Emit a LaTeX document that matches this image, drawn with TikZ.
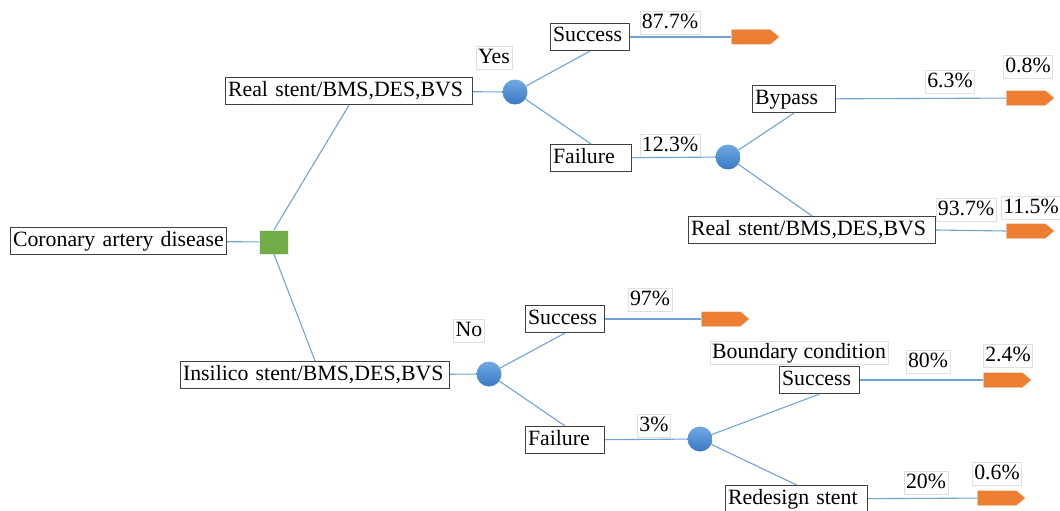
\documentclass[tikz,border=0pt]{standalone}
\usepackage{fontspec}
\setmainfont{Liberation Serif}
\usetikzlibrary{shapes.symbols}
\definecolor{linkblue}{RGB}{112,162,216}
\definecolor{chancetop}{RGB}{112,170,226}
\definecolor{chancebot}{RGB}{58,120,196}
\definecolor{endorange}{RGB}{237,125,49}
\definecolor{decgreen}{RGB}{112,173,71}
\newcommand{\treefont}{\fontsize{21.8}{25}\selectfont\hyphenpenalty=10000}
\tikzset{
  box/.style={draw=black!75, line width=1.1pt, fill=white, font=\treefont,
    text width=#1, align=left, inner xsep=2.5pt, inner ysep=3.5pt,
    text height=15pt, text depth=5pt, anchor=west},
  prob/.style={draw=black!12, line width=0.6pt, fill=white, font=\treefont,
    inner xsep=2pt, inner ysep=2pt, text height=15pt, text depth=4pt},
  chance/.style={circle, minimum size=25pt, inner sep=0pt,
    top color=chancetop, bottom color=chancebot},
  decision/.style={rectangle, minimum width=29pt, minimum height=24pt,
    inner sep=0pt, fill=decgreen, draw=black!8},
  terminal/.style={signal, signal to=east, signal pointer angle=80,
    fill=endorange, draw=black!8, minimum width=48pt, minimum height=15pt,
    inner sep=0pt},
  link/.style={draw=linkblue, line width=1.1pt}
}
\begin{document}
\begin{tikzpicture}[x=1pt, y=-1pt]
  \useasboundingbox (0,0) rectangle (1060,511);

  % root and decision
  \node[box=211] (cad) at (10,241) {Coronary artery disease};
  \node[decision] (dec) at (274,242) {};

  % upper branch: real stent
  \node[box=242] (real) at (225,91) {Real stent/BMS,DES,BVS};
  \node[chance] (c1) at (515,92) {};
  \node[prob] (yes) at (494,58) {Yes};
  \node[box=74] (succ1) at (550,37) {Success};
  \node[box=76] (fail1) at (550,158) {Failure};
  \node[prob] (p877) at (670,23) {87.7\%};
  \node[prob] (p123) at (670,146) {12.3\%};
  \node[terminal] (t1) at (751,37) {};
  \node[chance] (c2) at (728,157) {};
  \node[box=78] (bypass) at (752,99) {Bypass};
  \node[box=242] (real2) at (688,230) {Real stent/BMS,DES,BVS};
  \node[prob] (p63) at (950,82) {6.3\%};
  \node[prob] (p08) at (1028,67) {0.8\%};
  \node[prob] (p937) at (966,210) {93.7\%};
  \node[prob] (p115) at (1031,208) {11.5\%};
  \node[terminal] (t2) at (1026,98) {};
  \node[terminal] (t3) at (1026,231) {};

  % lower branch: insilico stent
  \node[box=264] (insil) at (180,375) {Insilico stent/BMS,DES,BVS};
  \node[chance] (c3) at (489,374) {};
  \node[prob] (no) at (469,331) {No};
  \node[box=74] (succ2) at (525,319) {Success};
  \node[box=74] (fail2) at (525,440) {Failure};
  \node[prob] (p97) at (650,300) {97\%};
  \node[prob] (p3) at (654,426) {3\%};
  \node[terminal] (t4) at (721,319) {};
  \node[chance] (c4) at (700,439) {};
  \node[prob] (bc) at (799,353) {Boundary condition};
  \node[box=75] (succ3) at (779,380) {Success};
  \node[box=137] (redes) at (725,499) {Redesign stent};
  \node[prob] (p80) at (928,362) {80\%};
  \node[prob] (p24) at (1008,356) {2.4\%};
  \node[prob] (p20) at (926,483) {20\%};
  \node[prob] (p06) at (997,474) {0.6\%};
  \node[terminal] (t5) at (1003,380) {};
  \node[terminal] (t6) at (997,498) {};

  % connectors
  \draw[link] (cad) -- (dec);
  \draw[link] (dec.north) -- (real.south);
  \draw[link] (dec.south) -- (insil.north);
  \draw[link] (real) -- (c1);
  \draw[link] (c1) -- (succ1.south);
  \draw[link] (c1) -- (fail1.north);
  \draw[link] (succ1) -- (t1);
  \draw[link] (fail1) -- (c2);
  \draw[link] (c2) -- (bypass.south);
  \draw[link] (c2) -- (real2.north);
  \draw[link] (bypass) -- (t2);
  \draw[link] (real2.east) -- (t3.west);
  \draw[link] (insil) -- (c3);
  \draw[link] (c3) -- (succ2.south);
  \draw[link] (c3) -- (fail2.north);
  \draw[link] (succ2) -- (t4);
  \draw[link] (fail2) -- (c4);
  \draw[link] (c4) -- (succ3.south);
  \draw[link] (c4) -- (redes.north);
  \draw[link] (succ3) -- (t5);
  \draw[link] (redes) -- (t6);
\end{tikzpicture}
\end{document}
